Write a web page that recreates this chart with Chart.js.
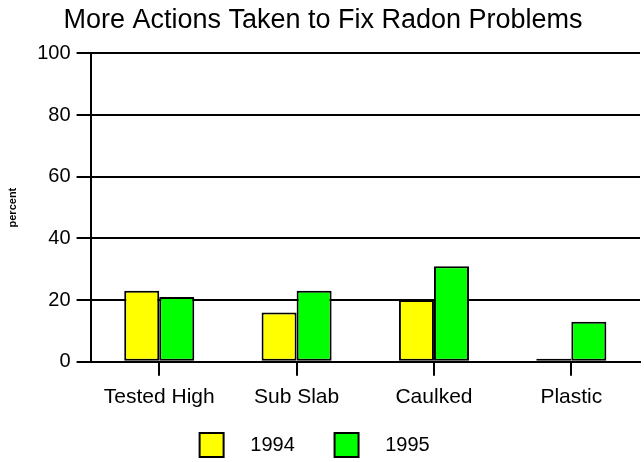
<!DOCTYPE html>
<html>
<head>
<meta charset="utf-8">
<script src="https://cdn.jsdelivr.net/npm/chart.js@4/dist/chart.umd.min.js"></script>
<style>
  html, body { margin: 0; padding: 0; background: #fff; }
  #wrap { width: 644px; height: 462px; }
</style>
</head>
<body>
<div id="wrap"><canvas id="radonChart"></canvas></div>
<script>
const categories = ['Tested High', 'Sub Slab', 'Caulked', 'Plastic'];
const values1994 = [23, 16, 20, 1];
const values1995 = [21, 23, 31, 13];
const yTicks = [0, 20, 40, 60, 80, 100];

Chart.defaults.font.family = '"Liberation Sans", Arial, sans-serif';
Chart.defaults.color = '#000';

const ctx = document.getElementById('radonChart');
new Chart(ctx, {
  type: 'bar',
  data: {
    labels: categories,
    datasets: [{
      label: '1994',
      data: values1994,
      backgroundColor: '#ffff00',
      borderColor: '#000',
      borderWidth: 2,
      borderSkipped: false,
      categoryPercentage: 0.51,
      barPercentage: 1
    }, {
      label: '1995',
      data: values1995,
      backgroundColor: '#00ff00',
      borderColor: '#000',
      borderWidth: 2,
      borderSkipped: false,
      categoryPercentage: 0.51,
      barPercentage: 1
    }]
  },
  options: {
    responsive: true,
    maintainAspectRatio: false,
    animation: false,
    layout: { padding: { left: 6, right: 4, top: 0, bottom: -5 } },
    plugins: {
      title: {
        display: true,
        text: 'More Actions Taken to Fix Radon Problems',
        font: { size: 27, weight: 'normal' },
        color: '#000',
        padding: { top: 4, bottom: 17 }
      },
      legend: {
        position: 'bottom',
        labels: {
          boxWidth: 24,
          boxHeight: 24,
          padding: 12,
          font: { size: 20 },
          color: '#000',
          generateLabels: chart => chart.data.datasets.map((ds, i) => ({
            text: '   ' + ds.label + (i === 0 ? '     ' : '   '),
            fillStyle: ds.backgroundColor,
            strokeStyle: '#000',
            lineWidth: 2,
            datasetIndex: i
          }))
        }
      },
      tooltip: { enabled: false }
    },
    scales: {
      x: {
        grid: { display: true, drawOnChartArea: false, offset: false, color: '#000', lineWidth: 2, tickLength: 14 },
        border: { display: true, color: '#000', width: 2 },
        ticks: { font: { size: 21 }, color: '#000', padding: 9 },
        afterFit: axis => { axis.height += 2; }
      },
      y: {
        min: 0,
        max: 100,
        afterBuildTicks: axis => { axis.ticks = yTicks.map(v => ({ value: v })); },
        grid: { color: '#000', lineWidth: 2, tickLength: 14 },
        border: { display: true, color: '#000', width: 2 },
        ticks: { font: { size: 20 }, color: '#000', padding: 6 },
        title: {
          display: true,
          text: 'percent',
          font: { size: 11, weight: 'bold' },
          color: '#000',
          padding: { top: 0, bottom: 12 }
        }
      }
    }
  }
});
</script>
</body>
</html>
